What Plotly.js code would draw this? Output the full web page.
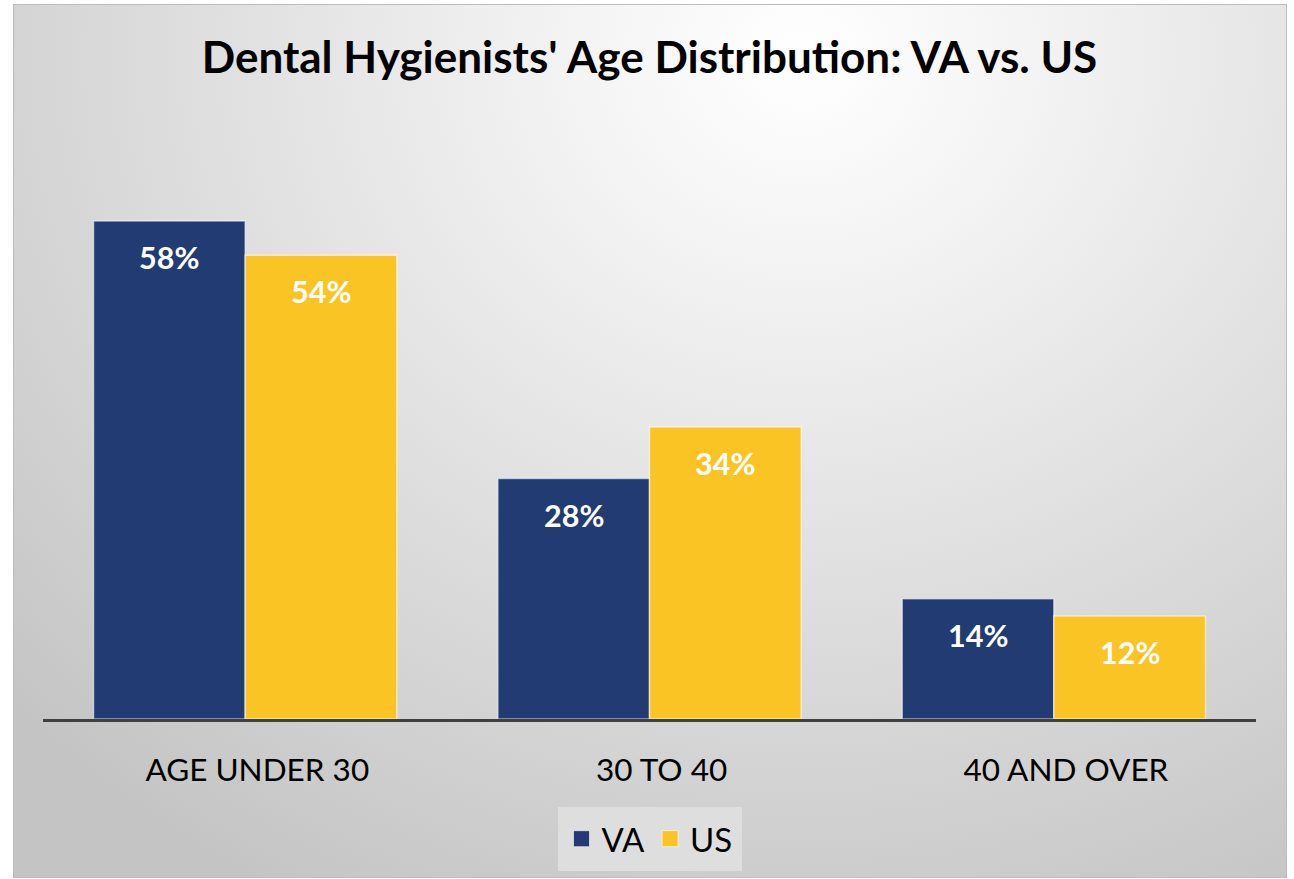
<!DOCTYPE html>
<html><head><meta charset="utf-8">
<script src="https://cdn.plot.ly/plotly-3.0.1.min.js"></script>
<style>
html,body{margin:0;padding:0;background:#fff;}
#frame{position:absolute;left:13px;top:4px;width:1272px;height:872px;border:1px solid #bcbcbc;
background:radial-gradient(ellipse 85% 110% at 62% 6%, #ffffff 0%, #f3f3f3 22%, #dcdcdc 60%, #c4c4c4 100%);}
#chart{position:absolute;left:0;top:0;width:1294px;height:879px;}
</style></head><body>
<div id="frame"></div><div id="chart"></div>
<script>
const categories = ['AGE UNDER 30', '30 TO 40', '40 AND OVER'];
const vaValues = [58, 28, 14];
const usValues = [54, 34, 12];
const seriesNames = ['VA', 'US'];
const seriesColors = ['#223b72', '#f9c424'];
const seriesValues = [vaValues, usValues];

const FONT = 'Lato, "Open Sans", sans-serif';
const traces = [];
seriesValues.forEach((vals, s) => {
  traces.push({
    type: 'bar', x: categories, y: vals, name: seriesNames[s],
    marker: {color: seriesColors[s], line: {color: 'rgba(255,255,255,0.55)', width: 1.5}},
    showlegend: false, hoverinfo: 'skip'
  });
});
seriesValues.forEach((vals, s) => {
  traces.push({
    type: 'scatter', mode: 'markers', x: [null], y: [null], name: seriesNames[s],
    marker: {symbol: 'square', size: 20, color: seriesColors[s], line: {color: 'rgba(255,255,255,0.6)', width: 1}},
    showlegend: true
  });
});

const bargap = 0.25;
const barW = (1 - bargap) / seriesValues.length;
const annotations = [];
seriesValues.forEach((vals, s) => {
  vals.forEach((v, i) => {
    annotations.push({
      x: i - (1 - bargap) / 2 + barW * (s + 0.5), y: v, xref: 'x', yref: 'y',
      text: v + '%', showarrow: false, yanchor: 'middle', yshift: -36,
      font: {family: FONT, size: 30.5, color: '#ffffff', weight: 'bold'}
    });
  });
});

const layout = {
  width: 1294, height: 879,
  paper_bgcolor: 'rgba(0,0,0,0)', plot_bgcolor: 'rgba(0,0,0,0)',
  margin: {l: 43, r: 38, t: 118, b: 160, autoexpand: false},
  title: {text: "<b>Dental Hygienists' Age Distribution: VA vs. US</b>", x: 0.5, xref: 'paper', y: 0.935, yref: 'container', yanchor: 'middle',
    font: {family: FONT, size: 44, color: '#000000'}},
  barmode: 'group', bargap: bargap, bargroupgap: 0,
  xaxis: {type: 'category', showline: true, linecolor: '#404040', linewidth: 3, ticks: '', showgrid: false, automargin: false,
    tickmode: 'array', tickvals: categories.map((c, i) => i + 0.03), ticktext: categories,
    tickfont: {family: FONT, size: 31.5, color: '#000000'}, ticklabelstandoff: 21, range: [-0.5, 2.5], fixedrange: true},
  yaxis: {range: [0, 70], visible: false, showgrid: false, zeroline: false, fixedrange: true},
  showlegend: true,
  legend: {orientation: 'h', x: 0.5, xanchor: 'center', y: -0.146, yanchor: 'top', bgcolor: '#dedede',
    bordercolor: '#dedede', borderwidth: 4,
    font: {family: FONT, size: 33, color: '#000000'}, itemwidth: 30, tracegroupgap: 0},
  annotations: annotations
};
Plotly.newPlot('chart', traces, layout, {displayModeBar: false, staticPlot: true});
</script>
</body></html>
